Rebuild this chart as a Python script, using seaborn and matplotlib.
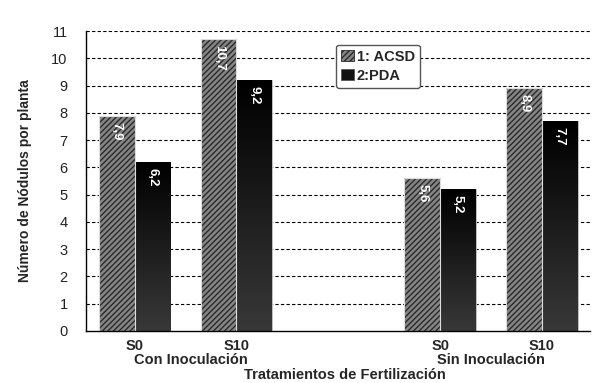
import matplotlib
matplotlib.use('Agg')
import matplotlib.pyplot as plt
import matplotlib.patches as mpatches
import seaborn as sns
import pandas as pd
import numpy as np

# 数据
grupos = ['S0 Con', 'S10 Con', '', 'S0 Sin', 'S10 Sin']
etiquetas_x = ['S0', 'S10', '', 'S0', 'S10']
series = ['1: ACSD', '2:PDA']
acsd = [7.9, 10.7, 5.6, 8.9]
pda = [6.2, 9.2, 5.2, 7.7]
cat_datos = ['S0 Con', 'S10 Con', 'S0 Sin', 'S10 Sin']
grupos_inoc = ['Con Inoculación', 'Sin Inoculación']

df = pd.DataFrame({
    'grupo': cat_datos * 2,
    'serie': [series[0]] * 4 + [series[1]] * 4,
    'valor': acsd + pda,
})

sns.set_style('white')
plt.rcParams['font.family'] = ['Liberation Sans', 'DejaVu Sans']
plt.rcParams['hatch.linewidth'] = 1.0

fig = plt.figure(figsize=(6, 3.83), dpi=100)
ax = fig.add_axes([0.143, 0.136, 0.84, 0.783])

sns.barplot(data=df, x='grupo', y='valor', hue='serie', order=grupos,
            hue_order=series, palette=['#858585', '#111111'], width=0.7,
            saturation=1, legend=False, ax=ax)

barras = [p for p in ax.patches if p.get_height() > 0]
barras.sort(key=lambda p: p.get_x())
for p in barras:
    h = p.get_height()
    if p.get_facecolor()[0] > 0.3:
        p.set_hatch('//////')
        p.set_edgecolor('#2a2a2a')
        p.set_linewidth(0.6)
        # borde claro alrededor de la barra rayada
        ax.add_patch(mpatches.Rectangle((p.get_x(), 0), p.get_width(), h, fill=False,
                                        edgecolor='#dddddd', linewidth=0.8,
                                        zorder=p.get_zorder() + 0.2))
    else:
        p.set_edgecolor('#cccccc')
        p.set_linewidth(0.6)
        # degradado negro arriba, gris oscuro abajo
        grad = np.linspace(0, 1, 100).reshape(-1, 1)
        im = ax.imshow(grad, extent=[p.get_x(), p.get_x() + p.get_width(), 0, h],
                       aspect='auto', cmap=matplotlib.colors.LinearSegmentedColormap.from_list(
                           'g', ['#383838', '#000000']), origin='lower', zorder=p.get_zorder() + 0.1)
        im.set_clip_path(p)
    ax.text(p.get_x() + p.get_width() / 2, h - 0.22, f'{h:.1f}'.replace('.', ','),
            rotation=270, ha='center', va='top', color='white', fontsize=9.5,
            fontweight='bold', zorder=5)

ax.set_xlim(-0.48, 4.47)
ax.set_ylim(0, 11)
ax.set_yticks(range(0, 12))
ax.set_yticklabels([str(i) for i in range(0, 12)], fontsize=10.5, color='#222222')
ax.set_xticks(range(len(grupos)))
ax.set_xticklabels(etiquetas_x, fontsize=10.5, fontweight='bold')
ax.tick_params(axis='y', length=0, pad=13)
ax.tick_params(axis='x', length=0, pad=6)

for y in range(1, 12):
    ax.axhline(y, color='black', linestyle=(0, (3, 2)), linewidth=0.8, zorder=0.5)
ax.set_axisbelow(True)

sns.despine(ax=ax, top=True, right=True)
ax.spines['left'].set_color('black')
ax.spines['bottom'].set_color('black')
ax.spines['left'].set_linewidth(1)
ax.spines['bottom'].set_linewidth(1)

ax.set_xlabel('')
ax.set_ylabel('Número de Nódulos por planta', fontsize=10, fontweight='bold', labelpad=14)

for xg, txt in zip([0.55, 3.5], grupos_inoc):
    ax.text(xg, -0.097, txt, transform=ax.get_xaxis_transform(), ha='center',
            va='center', fontsize=10.5, fontweight='bold')
ax.text(0.514, -0.147, 'Tratamientos de Fertilización', transform=ax.transAxes,
        ha='center', va='center', fontsize=10.5, fontweight='bold')

handles = [mpatches.Patch(facecolor='#858585', edgecolor='#2a2a2a', hatch='//////', linewidth=0.6),
           mpatches.Patch(facecolor='#111111', edgecolor='#555555', linewidth=0.6)]
leg = ax.legend(handles, series, loc='upper left', bbox_to_anchor=(0.496, 0.955),
                prop={'weight': 'bold', 'size': 10.5}, frameon=True, fancybox=True,
                handlelength=0.9, handleheight=0.8, handletextpad=0.2,
                borderpad=0.35, labelspacing=0.35, borderaxespad=0)
leg.get_frame().set_edgecolor('#555555')
leg.get_frame().set_linewidth(1)
leg.get_frame().set_alpha(1)

fig.savefig('out.png', dpi=100)
